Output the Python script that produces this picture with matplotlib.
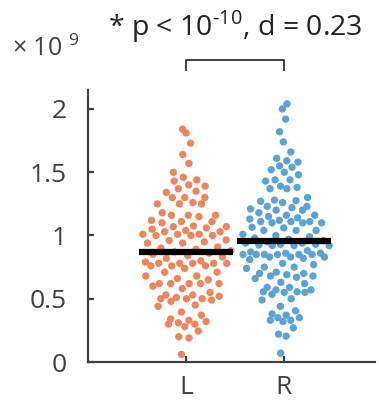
import numpy as np
import matplotlib
matplotlib.use("Agg")
import matplotlib.pyplot as plt

plt.rcParams['font.family'] = ['Open Sans', 'DejaVu Sans']
plt.rcParams['mathtext.fontset'] = 'custom'
plt.rcParams['mathtext.rm'] = 'Open Sans'

# values in units of 1e9
groups = ["L", "R"]
left_vals = [1.84, 1.81, 1.73, 1.64, 1.57, 1.50, 1.43, 1.46, 1.44, 1.40, 1.37, 1.39,
             1.35, 1.34, 1.30, 1.30, 1.30, 1.26, 1.25, 1.25, 1.25,
             1.15, 1.16, 1.16, 1.16, 1.18, 1.12, 1.10, 1.075, 1.06, 1.07, 1.05, 1.11,
             1.07, 1.11, 1.01, 1.00, 1.01, 1.04, 1.03, 1.01, 1.03, 1.00, 1.00, 0.965,
             0.95, 0.96, 0.94, 0.94, 0.91,
             0.90, 0.89, 0.88, 0.87, 0.86, 0.85, 0.84, 0.83, 0.82, 0.80,
             0.78, 0.78, 0.79, 0.76, 0.78, 0.76, 0.78, 0.78, 0.76, 0.71, 0.68, 0.65,
             0.66, 0.74, 0.71, 0.68, 0.62, 0.62, 0.62, 0.62, 0.62,
             0.60, 0.58, 0.53, 0.53, 0.55, 0.52, 0.50, 0.49, 0.51, 0.50, 0.48, 0.50,
             0.45, 0.44, 0.395, 0.37, 0.33, 0.30, 0.32, 0.31, 0.28, 0.34, 0.30, 0.245,
             0.20, 0.19, 0.06]
right_vals = [2.04, 2.00, 1.92, 1.82, 1.74, 1.66, 1.61, 1.59, 1.58, 1.55, 1.52, 1.54,
              1.50, 1.48, 1.44, 1.43, 1.44, 1.37, 1.37, 1.38, 1.39, 1.30, 1.275, 1.27,
              1.28, 1.26, 1.23, 1.21, 1.22, 1.23, 1.20, 1.16, 1.20, 1.10, 1.11, 1.14,
              1.11, 1.13, 1.11, 1.16, 1.15, 1.18, 1.12, 1.10, 1.10, 1.06, 1.065, 1.04,
              1.04, 1.04, 1.01,
              1.00, 0.99, 0.98, 0.97, 0.96, 0.95, 0.94, 0.93,
              0.92, 0.92, 0.93, 0.94, 0.92, 0.925,
              0.85, 0.85, 0.83, 0.85, 0.87, 0.83, 0.86, 0.85, 0.88, 0.83, 0.85, 0.86,
              0.82, 0.85, 0.78, 0.81, 0.75, 0.66, 0.71, 0.68, 0.70, 0.74, 0.75, 0.77,
              0.67, 0.70, 0.69, 0.68, 0.63, 0.62, 0.59, 0.55, 0.535, 0.49, 0.57, 0.55,
              0.555, 0.555, 0.59, 0.57, 0.50, 0.37, 0.38, 0.33, 0.35, 0.35, 0.32, 0.27,
              0.405, 0.44, 0.33, 0.22, 0.205, 0.07]
medians = [0.87, 0.96]
colors = ["#F0845A", "#5AA3D4"]

W, H = 379, 404
fig = plt.figure(figsize=(W / 100, H / 100), dpi=100)
ax = fig.add_axes([88 / W, 42 / H, 287 / W, 272 / H])
ax.set_xlim(0, 2.93)
ax.set_ylim(0, 2.15)


def density_jitter(vals, half_width=0.47, bw=0.11):
    # swarm-like spread: offset scaled by kernel density, golden-ratio sequence
    v = np.asarray(vals)
    d = np.exp(-0.5 * ((v[:, None] - v[None, :]) / bw) ** 2).sum(axis=1)
    d = d / d.max()
    order = np.argsort(v)
    frac = np.zeros(len(v))
    frac[order] = (np.arange(len(v)) * 0.618034) % 1.0
    return half_width * d * (2 * frac - 1)


for k, vals in enumerate([left_vals, right_vals]):
    xs = k + 1 + density_jitter(vals)
    ax.scatter(xs, vals, s=28, color=colors[k], edgecolors="none", zorder=2)
    ax.plot([k + 1 - 0.48, k + 1 + 0.48], [medians[k]] * 2, color="black", lw=4.5,
            solid_capstyle="butt", zorder=3)

gray = "#404040"
ax.spines[["top", "right"]].set_visible(False)
for s in ["left", "bottom"]:
    ax.spines[s].set_color(gray)
    ax.spines[s].set_linewidth(1.6)
ax.set_xticks([1, 2])
ax.set_xticklabels(groups)
ax.set_yticks([0, 0.5, 1, 1.5, 2])
ax.set_yticklabels(["0", "0.5", "1", "1.5", "2"])
ax.tick_params(direction="in", length=4, width=1.6, color=gray, labelcolor=gray,
               labelsize=19)
ax.tick_params(axis="y", pad=15)
ax.tick_params(axis="x", pad=9)

# multiplier label
fig.text(12 / W, 1 - 56 / H, r"$\times$ 10 $^{\mathregular{9}}$", fontsize=18, color=gray)

# significance bracket
ax.plot([1, 1, 2, 2], [2.31, 2.39, 2.39, 2.31], color=gray, lw=1.4, clip_on=False)
ax.text(1.5, 2.58, r"* p < 10$^{\mathregular{\text{-10}}}$, d = 0.23", ha="center",
        va="baseline", fontsize=20.5, color="#222222")

fig.savefig("out.png", dpi=100)
